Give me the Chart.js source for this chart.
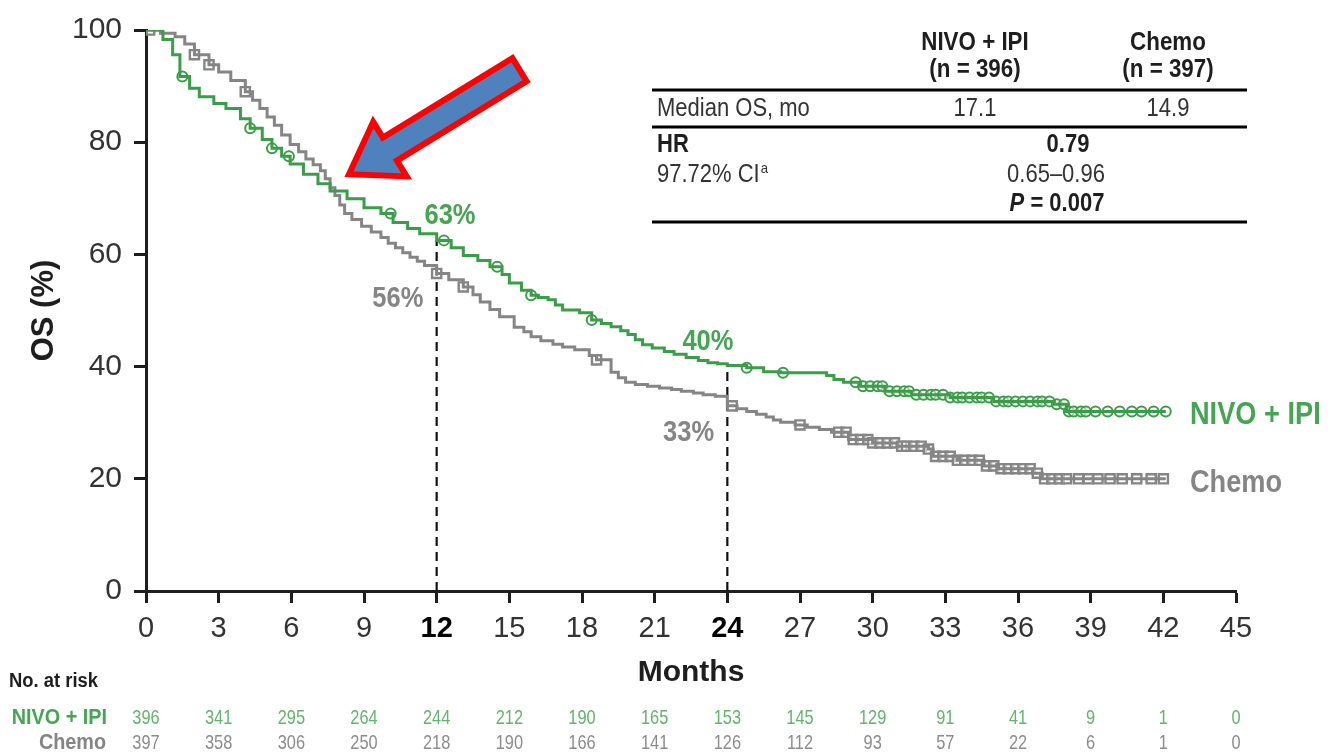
<!DOCTYPE html>
<html>
<head>
<meta charset="utf-8">
<script src="https://cdn.jsdelivr.net/npm/chart.js@4.4.1/dist/chart.umd.min.js"></script>
<style>
  html, body { margin: 0; padding: 0; background: #fff; }
  canvas { display: block; }
</style>
</head>
<body>
<canvas id="km" width="1330" height="753"></canvas>
<script>
// Kaplan-Meier steps: [months, OS %]
const nivoSteps = [[0,100],[0.7,98.3],[1.1,95.6],[1.4,91.7],[1.8,89.6],[2.2,88.1],[2.8,86.9],[3.3,86.0],[3.9,84.2],[4.3,82.5],[4.8,80.5],[5.2,78.9],[5.6,77.5],[5.95,76.1],[6.5,74.3],[7.1,72.6],[7.6,71.3],[8.3,69.9],[9.0,68.3],[9.7,67.3],[10.2,65.7],[10.8,64.6],[11.3,63.7],[12.0,62.5],[12.6,61.2],[13.1,59.8],[13.7,58.9],[14.2,57.8],[14.7,56.4],[15.0,54.9],[15.5,53.6],[15.9,52.7],[16.2,52.3],[16.6,51.9],[16.9,51.0],[17.2,50.1],[17.9,49.6],[18.4,48.3],[18.8,47.7],[19.2,47.1],[19.6,46.4],[19.9,45.7],[20.2,44.8],[20.5,43.9],[20.9,43.3],[21.4,42.7],[21.8,42.2],[22.3,41.6],[22.8,41.1],[23.2,40.7],[23.6,40.5],[24.0,40.2],[24.8,39.8],[25.5,39.1],[26.2,38.9],[28.1,38.4],[28.4,37.7],[28.8,37.2],[29.5,36.5],[30.5,35.6],[31.6,35.0],[33.2,34.5],[35.0,33.8],[37.5,33.3],[38.0,32.0],[42.1,32.0]];
const chemoSteps = [[0,100],[0.6,99.4],[1.2,98.8],[1.6,97.5],[2.0,95.6],[2.6,93.8],[3.0,92.5],[3.5,91.0],[4.1,89.0],[4.4,87.5],[4.7,86.0],[5.0,84.5],[5.3,83.0],[5.6,81.3],[5.95,79.6],[6.3,78.3],[6.6,77.0],[6.9,76.0],[7.2,74.9],[7.4,73.5],[7.6,71.9],[7.8,70.5],[8.0,68.8],[8.2,67.3],[8.5,66.2],[8.9,65.0],[9.3,64.0],[9.7,63.0],[10.0,62.0],[10.3,61.2],[10.6,60.3],[10.9,59.5],[11.2,58.8],[11.5,58.0],[12.0,56.6],[12.5,55.5],[13.1,54.2],[13.5,52.8],[13.8,51.5],[14.2,50.2],[14.6,48.9],[15.2,47.0],[15.6,46.2],[15.9,45.3],[16.3,44.6],[16.8,44.0],[17.2,43.5],[17.7,43.0],[18.3,42.0],[18.6,41.2],[19.2,39.0],[19.5,38.0],[19.8,37.2],[20.2,36.8],[20.7,36.5],[21.2,36.2],[21.7,35.9],[22.1,35.6],[22.6,35.3],[23.0,35.0],[23.5,34.7],[24.0,33.0],[24.4,32.5],[24.8,32.0],[25.2,31.5],[25.6,31.0],[25.9,30.5],[26.2,30.1],[26.8,29.6],[27.3,29.2],[27.8,28.8],[28.3,28.3],[29.0,27.0],[30.0,26.4],[31.0,25.8],[32.3,25.3],[32.5,24.0],[33.5,23.3],[34.6,22.3],[35.2,21.8],[36.6,21.0],[37.0,20.0],[42.1,20.0]];

// censored patients (months)
const nivoCensor = [1.5,4.3,5.2,5.9,10.1,12.3,14.5,15.9,18.4,24.8,26.3,29.3,29.6,29.9,30.2,30.4,30.7,31.0,31.3,31.5,31.8,32.1,32.4,32.6,32.9,33.2,33.5,33.7,34.0,34.3,34.5,34.8,35.1,35.4,35.6,35.9,36.2,36.5,36.8,37.0,37.3,37.6,37.9,38.1,38.3,38.6,38.8,39.2,39.7,40.2,40.7,41.1,41.6,42.1];
const chemoCensor = [0.15,2.0,2.6,4.1,12.0,13.1,18.6,24.2,27.0,28.6,28.9,29.2,29.5,29.8,30.0,30.3,30.6,30.9,31.2,31.4,31.7,32.0,32.3,32.6,32.9,33.2,33.5,33.8,34.1,34.4,34.7,35.0,35.3,35.6,35.9,36.2,36.5,36.8,37.1,37.4,37.7,38.0,38.5,38.9,39.3,39.8,40.3,40.9,41.5,42.0];

// landmark rates
const landmarkMonths = [12, 24];
const nivoLandmark = [63, 40];
const chemoLandmark = [56, 33];

// number at risk
const riskMonths = [0,3,6,9,12,15,18,21,24,27,30,33,36,39,42,45];
const nivoRisk = [396,341,295,264,244,212,190,165,153,145,129,91,41,9,1,0];
const chemoRisk = [397,358,306,250,218,190,166,141,126,112,93,57,22,6,1,0];

const FONT = "'Liberation Sans', Arial, sans-serif";
const GREEN = '#3a9d47';
const GREEN_TXT = '#45a552';
const GRAY = '#858585';
const INK = '#1e1e1e';

const toXY = arr => arr.map(p => ({x: p[0], y: p[1]}));
const survAt = (steps, t) => {
  let s = steps[0][1];
  for (const p of steps) { if (p[0] <= t) s = p[1]; }
  return s;
};
const isLandmark = c => !!(c && c.tick && landmarkMonths.includes(c.tick.value));

// narrow text: squeeze the glyphs horizontally, like Arial Narrow
const narrow = (ctx, s, x, y, k) => {
  const w = ctx.measureText(s).width;
  ctx.fillText(s, x, y, w * (k || 0.82));
};

const overlay = {
  id: 'overlay',
  afterDraw(chart) {
    const {ctx, scales: {x, y}} = chart;
    const px = v => x.getPixelForValue(v), py = v => y.getPixelForValue(v);
    ctx.save();

    // landmark labels
    ctx.textAlign = 'center';
    ctx.textBaseline = 'middle';
    ctx.font = `bold 29px ${FONT}`;
    ctx.fillStyle = GREEN_TXT;
    narrow(ctx, nivoLandmark[0] + '%', px(12.55), py(66.8), 0.88);
    narrow(ctx, nivoLandmark[1] + '%', px(23.2), py(44.4), 0.88);
    ctx.fillStyle = GRAY;
    narrow(ctx, chemoLandmark[0] + '%', px(10.4), py(52.0), 0.88);
    narrow(ctx, chemoLandmark[1] + '%', px(22.4), py(28.2), 0.88);

    // series names at line ends
    ctx.textAlign = 'left';
    ctx.font = `bold 32px ${FONT}`;
    ctx.fillStyle = GREEN_TXT;
    narrow(ctx, 'NIVO + IPI', px(43.1), py(31.3), 0.85);
    ctx.fillStyle = GRAY;
    narrow(ctx, 'Chemo', px(43.1), py(19.3), 0.85);

    // arrow
    const tipX = px(8.38), tipY = py(74.3);
    const ang = Math.atan2(-106, 173);
    const L = 200, shaft = 27, head = 64, headLen = 48;
    const pts = [[0,0],[headLen, -head/2],[headLen, -shaft/2],[L, -shaft/2],[L, shaft/2],[headLen, shaft/2],[headLen, head/2]];
    ctx.beginPath();
    pts.forEach((p, i) => {
      const ex = tipX + p[0]*Math.cos(ang) - p[1]*Math.sin(ang);
      const ey = tipY + p[0]*Math.sin(ang) + p[1]*Math.cos(ang);
      i ? ctx.lineTo(ex, ey) : ctx.moveTo(ex, ey);
    });
    ctx.closePath();
    ctx.fillStyle = '#4f81bd';
    ctx.fill();
    ctx.lineWidth = 6;
    ctx.lineJoin = 'miter';
    ctx.strokeStyle = '#ff0000';
    ctx.stroke();

    // summary table
    ctx.fillStyle = INK;
    ctx.strokeStyle = '#000';
    ctx.lineWidth = 3;
    const tl = 652, tr = 1247, c1 = 975, c2 = 1168;
    [90, 127, 222].forEach(yy => { ctx.beginPath(); ctx.moveTo(tl, yy); ctx.lineTo(tr, yy); ctx.stroke(); });
    ctx.textAlign = 'center';
    ctx.font = `bold 26px ${FONT}`;
    narrow(ctx, 'NIVO + IPI', c1, 43, 0.86);
    narrow(ctx, '(n = 396)', c1, 70, 0.86);
    narrow(ctx, 'Chemo', c2, 43, 0.86);
    narrow(ctx, '(n = 397)', c2, 70, 0.86);
    ctx.font = `25px ${FONT}`;
    ctx.fillStyle = '#333';
    ctx.textAlign = 'left';
    narrow(ctx, 'Median OS, mo', 657, 109, 0.88);
    narrow(ctx, '97.72% CI', 657, 175, 0.88);
    const ciw = ctx.measureText('97.72% CI').width * 0.88;
    ctx.font = `15px ${FONT}`;
    narrow(ctx, 'a', 657 + ciw + 1, 169, 0.88);
    ctx.font = `25px ${FONT}`;
    ctx.textAlign = 'center';
    narrow(ctx, '17.1', c1, 109, 0.88);
    narrow(ctx, '14.9', c2, 109, 0.88);
    narrow(ctx, '0.65\u20130.96', 1056, 175, 0.88);
    ctx.font = `bold 25px ${FONT}`;
    ctx.fillStyle = INK;
    ctx.textAlign = 'left';
    narrow(ctx, 'HR', 657, 145, 0.88);
    ctx.textAlign = 'center';
    narrow(ctx, '0.79', 1068, 145, 0.88);
    ctx.textAlign = 'left';
    ctx.font = `italic bold 25px ${FONT}`;
    const pw = ctx.measureText('P').width * 0.88;
    ctx.font = `bold 25px ${FONT}`;
    const rest = ' = 0.007';
    const rw = ctx.measureText(rest).width * 0.88;
    const px0 = 1057 - (pw + rw) / 2;
    ctx.font = `italic bold 25px ${FONT}`;
    narrow(ctx, 'P', px0, 204, 0.88);
    ctx.font = `bold 25px ${FONT}`;
    narrow(ctx, rest, px0 + pw, 204, 0.88);

    // number at risk
    ctx.textAlign = 'left';
    ctx.font = `bold 20px ${FONT}`;
    ctx.fillStyle = INK;
    narrow(ctx, 'No. at risk', 9, 681, 0.92);
    ctx.textAlign = 'right';
    ctx.font = `bold 22px ${FONT}`;
    ctx.fillStyle = GREEN_TXT;
    narrow(ctx, 'NIVO + IPI', 107, 718, 0.9);
    ctx.fillStyle = GRAY;
    narrow(ctx, 'Chemo', 106, 743, 0.9);
    ctx.textAlign = 'center';
    ctx.font = `21px ${FONT}`;
    riskMonths.forEach((m, i) => {
      ctx.fillStyle = '#62b56b';
      narrow(ctx, String(nivoRisk[i]), px(m), 718, 0.78);
      ctx.fillStyle = '#8c8c8c';
      narrow(ctx, String(chemoRisk[i]), px(m), 743, 0.78);
    });
    ctx.restore();
  }
};

new Chart(document.getElementById('km'), {
  type: 'line',
  data: {
    datasets: [
      {
        label: 'NIVO + IPI',
        data: toXY(nivoSteps),
        stepped: true,
        borderColor: GREEN,
        borderWidth: 3,
        pointRadius: 0,
        fill: false
      },
      {
        label: 'NIVO + IPI censored',
        data: nivoCensor.map(t => ({x: t, y: survAt(nivoSteps, t)})),
        showLine: false,
        pointStyle: 'circle',
        pointRadius: 5,
        pointBorderWidth: 2,
        pointBorderColor: GREEN,
        pointBackgroundColor: 'rgba(255,255,255,0.5)'
      },
      {
        label: 'Chemo',
        data: toXY(chemoSteps),
        stepped: true,
        borderColor: GRAY,
        borderWidth: 3,
        pointRadius: 0,
        fill: false
      },
      {
        label: 'Chemo censored',
        data: chemoCensor.map(t => ({x: t, y: survAt(chemoSteps, t)})),
        showLine: false,
        pointStyle: 'rect',
        pointRadius: 6.5,
        pointBorderWidth: 2.4,
        pointBorderColor: GRAY,
        pointBackgroundColor: 'rgba(255,255,255,0.5)'
      },
      ...landmarkMonths.map(m => ({
        label: 'landmark ' + m,
        data: [{x: m, y: 0}, {x: m, y: survAt(nivoSteps, m)}],
        borderColor: '#111',
        borderWidth: 2.2,
        borderDash: [9, 6],
        pointRadius: 0,
        fill: false
      }))
    ]
  },
  options: {
    responsive: false,
    animation: false,
    devicePixelRatio: 1,
    layout: { padding: { left: 0, right: 94, top: 28, bottom: 0 } },
    plugins: { legend: { display: false }, tooltip: { enabled: false } },
    scales: {
      x: {
        type: 'linear',
        min: 0,
        max: 45,
        afterFit: s => { s.height = 162; },
        ticks: {
          stepSize: 3,
          autoSkip: false,
          maxRotation: 0,
          padding: 9,
          color: c => isLandmark(c) ? '#000' : '#333',
          font: c => ({ family: FONT, size: 29, weight: isLandmark(c) ? 'bold' : 'normal' })
        },
        grid: { drawOnChartArea: false, tickLength: 12, tickWidth: 3, tickColor: INK },
        border: { width: 3, color: INK },
        title: {
          display: true,
          text: 'Months',
          color: INK,
          font: { family: FONT, size: 30, weight: 'bold' },
          padding: { top: 0, bottom: 62 }
        }
      },
      y: {
        min: 0,
        max: 100,
        afterFit: s => { s.width = 146; },
        ticks: { stepSize: 20, padding: 12, color: '#333', font: { family: FONT, size: 30 } },
        grid: { drawOnChartArea: false, tickLength: 12, tickWidth: 3, tickColor: INK },
        border: { width: 3, color: INK },
        title: {
          display: true,
          text: 'OS (%)',
          color: INK,
          font: { family: FONT, size: 31, weight: 'bold' },
          padding: { top: 26, bottom: 0 }
        }
      }
    }
  },
  plugins: [overlay]
});
</script>
</body>
</html>
